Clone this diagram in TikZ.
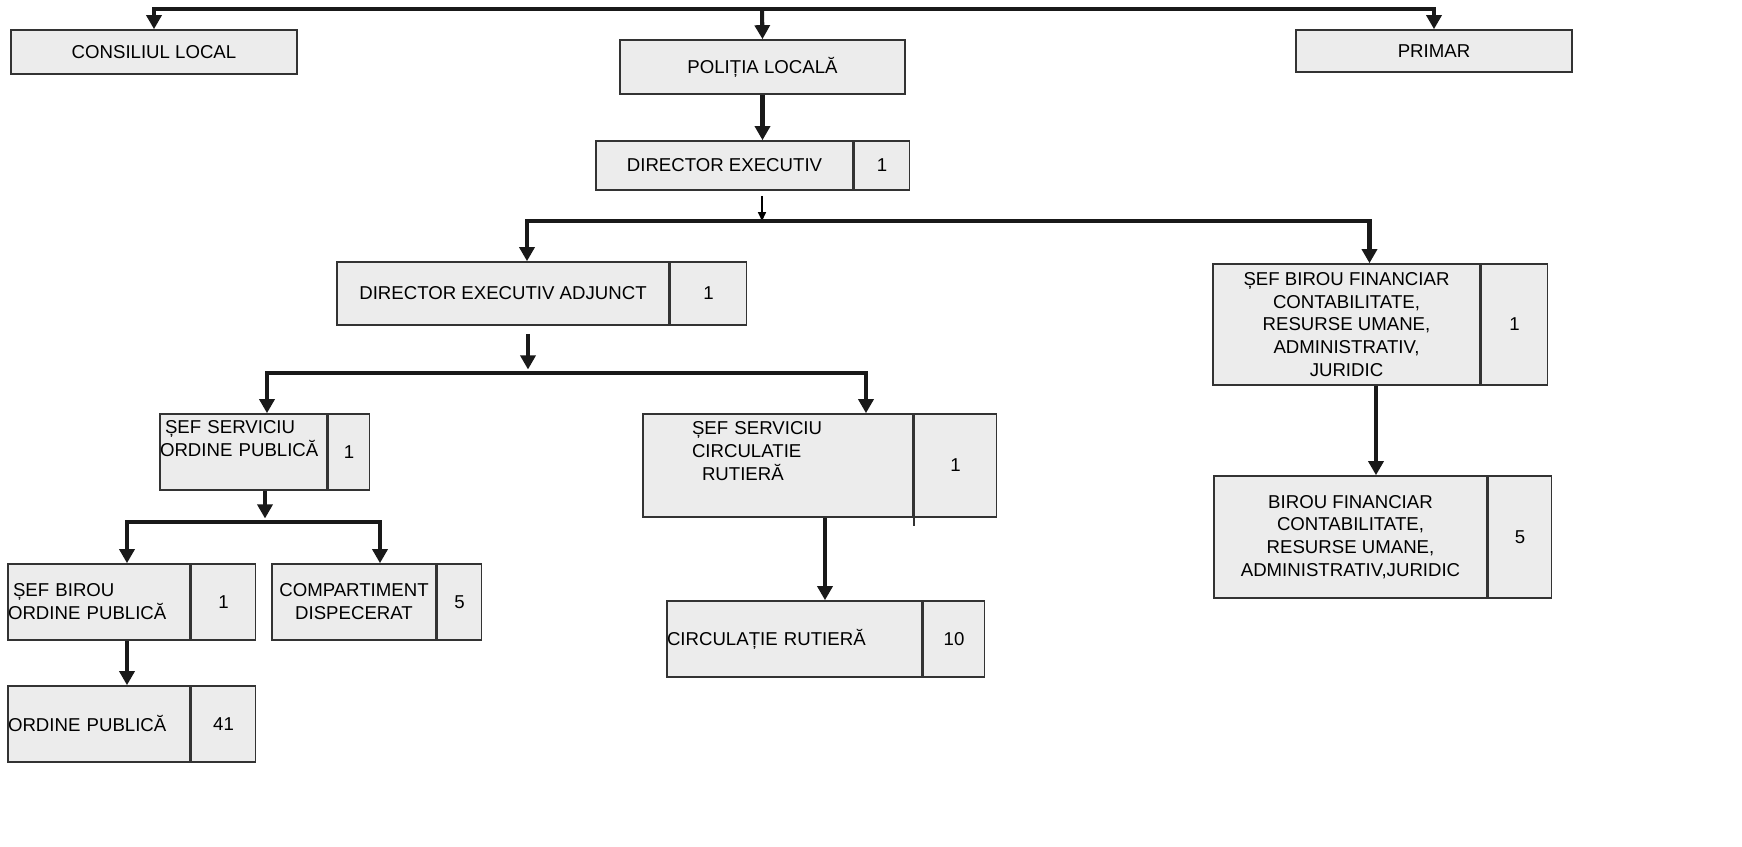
\documentclass[tikz,border=0pt]{standalone}
\usepackage{fontspec}
\setmainfont{Liberation Sans}
\usetikzlibrary{positioning,arrows.meta}
\definecolor{boxgray}{HTML}{ECECEC}
\tikzset{
  box/.style={draw=black!80,fill=boxgray,line width=0.9pt,inner sep=1pt,align=center,
    font=\fontsize{10.6}{13}\selectfont},
  arr/.style={line width=2.3pt,draw=black!90,-{Triangle[length=8pt,width=8.5pt]}},
  thinarr/.style={line width=0.8pt,-{Triangle[length=5pt,width=4.5pt]}}
}
\begin{document}
\begin{tikzpicture}[x=0.02cm,y=-0.02cm]
                \useasboundingbox (0,0) rectangle (1742,847);
                % top row
                \path (154,52) node[box,minimum width=5.72cm,minimum height=0.88cm] (consiliu) {CONSILIUL LOCAL};
                \path (762.5,67) node[box,minimum width=5.7cm,minimum height=1.08cm] (politia) {POLIȚIA LOCALĂ};
                \path (1434,51) node[box,minimum width=5.52cm,minimum height=0.84cm] (primar) {PRIMAR};
                \coordinate (bus1) at (762,9);

                % conducere
                \path (724.5,165.5) node[box,minimum width=5.14cm,minimum height=0.98cm] (director) {DIRECTOR EXECUTIV};
                \path node[box,right=0pt of director,minimum width=1.1cm,minimum height=0.98cm] (directorn) {1};
                \coordinate (bus2) at (762,221);
                \path (503,293.5) node[box,minimum width=6.64cm,minimum height=1.26cm] (adjunct) {DIRECTOR EXECUTIV ADJUNCT};
                \path node[box,right=0pt of adjunct,minimum width=1.52cm,minimum height=1.26cm] (adjunctn) {1};
                \path (1346.5,324.5) node[box,minimum width=5.34cm,minimum height=2.42cm] (sefbfin)
                  {ȘEF BIROU FINANCIAR\\CONTABILITATE,\\RESURSE UMANE,\\ADMINISTRATIV,\\JURIDIC};
                \path node[box,right=0pt of sefbfin,minimum width=1.32cm,minimum height=2.42cm] (sefbfinn) {1};
                \path (1350.5,537) node[box,minimum width=5.46cm,minimum height=2.44cm] (biroufin)
                  {BIROU FINANCIAR\\CONTABILITATE,\\RESURSE UMANE,\\ADMINISTRATIV,JURIDIC};
                \path node[box,right=0pt of biroufin,minimum width=1.26cm,minimum height=2.44cm] (biroufinn) {5};

                % servicii
                \coordinate (bus3) at (528,373);
                \path (243.5,452) node[box,align=left,inner xsep=0pt,text width=3.34cm,text depth=1.0cm,minimum height=1.52cm] (sefop)
                  {\hspace*{1mm}ȘEF SERVICIU\\ORDINE PUBLICĂ};
                \path node[box,right=0pt of sefop,minimum width=0.82cm,minimum height=1.52cm] (sefopn) {1};
                \path (778,465.5) node[box,align=left,inner xsep=0.98cm,text width=3.44cm,text depth=1.5cm,minimum height=2.06cm] (sefcr)
                  {ȘEF SERVICIU\\CIRCULATIE\\\hspace*{2mm}RUTIERĂ};
                \path node[box,right=0pt of sefcr,minimum width=1.64cm,minimum height=2.06cm] (sefcrn) {1};
                \draw[line width=0.9pt,draw=black!80] (sefcrn.south west) -- ++(0,8);
                \path (794.5,639) node[box,align=left,inner xsep=0pt,text width=5.1cm,minimum height=1.52cm] (circ) {CIRCULAȚIE RUTIERĂ};
                \path node[box,right=0pt of circ,minimum width=1.22cm,minimum height=1.52cm] (circn) {10};

                % birouri
                \coordinate (bus4) at (265,522);
                \path (99,602) node[box,align=left,inner xsep=0pt,text width=3.64cm,minimum height=1.52cm] (sefbop)
                  {\hspace*{1mm}ȘEF BIROU\\ORDINE PUBLICĂ};
                \path node[box,right=0pt of sefbop,minimum width=1.28cm,minimum height=1.52cm] (sefbopn) {1};
                \path (354,602) node[box,inner sep=0pt,minimum width=3.28cm,minimum height=1.52cm] (dispecerat) {COMPARTIMENT\\DISPECERAT};
                \path node[box,right=0pt of dispecerat,minimum width=0.88cm,minimum height=1.52cm] (dispeceratn) {5};
                \path (99,724) node[box,align=left,inner xsep=0pt,text width=3.64cm,minimum height=1.52cm] (ordine) {ORDINE PUBLICĂ};
                \path node[box,right=0pt of ordine,minimum width=1.28cm,minimum height=1.52cm] (ordinen) {41};

                % legaturi
                \draw[arr] (bus1) -| (consiliu.north);
                \draw[arr] (bus1) -| (primar.north);
                \draw[arr] (bus1) -- (politia.north);
                \draw[arr] (politia.south) -- (politia.south |- director.north);
                \draw[thinarr,shorten <=0.1cm] (director.south -| bus2) -- (bus2);
                \draw[arr] (bus2) -| ([xshift=0.48cm]adjunct.north);
                \draw[arr] (bus2) -| ([xshift=0.46cm]sefbfin.north);
                \draw[arr,shorten <=0.16cm,shorten >=2pt] (adjunct.south -| bus3) -- (bus3);
                \draw[arr] (bus3) -| ([xshift=0.47cm]sefop.north);
                \draw[arr] (bus3) -| ([xshift=1.76cm]sefcr.north);
                \draw[arr,shorten >=2pt] (sefop.south -| bus4) -- (bus4);
                \draw[arr] (bus4) -| ([xshift=0.56cm]sefbop.north);
                \draw[arr] (bus4) -| ([xshift=0.52cm]dispecerat.north);
                \draw[arr] ([xshift=0.56cm]sefbop.south) -- ([xshift=0.56cm]ordine.north);
                \draw[arr] ([xshift=0.94cm]sefcr.south) -- ([xshift=0.94cm]sefcr.south |- circ.north);
                \draw[arr] ([xshift=0.59cm]sefbfin.south) -- ([xshift=0.59cm]sefbfin.south |- biroufin.north);
\end{tikzpicture}
\end{document}
